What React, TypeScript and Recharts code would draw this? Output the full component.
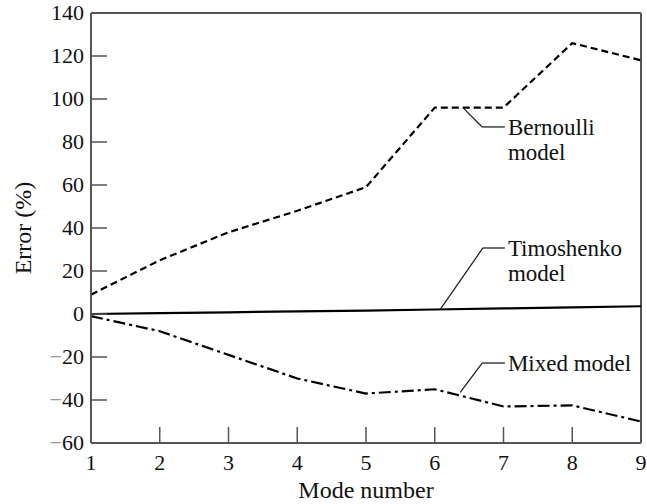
import { LineChart, Line, XAxis, YAxis, ReferenceLine, Label } from 'recharts';

const modes = [1, 2, 3, 4, 5, 6, 7, 8, 9];
const bernoulli = [9, 25, 38, 48, 59, 96, 96, 126, 118];
const timoshenko = [0, 0.4, 0.8, 1.2, 1.6, 2.1, 2.6, 3.1, 3.6];
const mixed = [-1, -8, -19, -30, -37, -35, -43, -42.5, -50];

const yTicks = [-60, -40, -20, 0, 20, 40, 60, 80, 100, 120, 140];

// leader lines for the in-plot labels: [x0, y0, x1, y1, x2]
const leaders = [
  { name: 'bernoulli', pts: [6.41, 96, 6.69, 87, 7.02], text: ['Bernoulli', 'model'] },
  { name: 'timoshenko', pts: [6.08, 2.2, 6.7, 30.7, 7.02], text: ['Timoshenko', 'model'] },
  { name: 'mixed', pts: [6.37, -36.5, 6.69, -22.8, 7.02], text: ['Mixed model'] },
];

const data = modes.map((m, i) => ({
  mode: m,
  bernoulli: bernoulli[i],
  timoshenko: timoshenko[i],
  mixed: mixed[i],
}));

const FONT = '"Liberation Serif", "Times New Roman", serif';
const AXIS = '#555';

function YTick(props: any) {
  const { x, y, payload } = props;
  const v = payload.value as number;
  const neg = v < 0;
  return (
    <g>
      {v > -60 && v < 140 && <line x1={x} y1={y} x2={x + 16} y2={y} stroke={AXIS} strokeWidth={1.5} />}
      <text x={x - 7} y={y + 7} textAnchor="end" fontFamily={FONT} fontSize={22} fill="#111">
        {neg && <tspan fill="#999">−</tspan>}
        {Math.abs(v)}
      </text>
    </g>
  );
}

function XTick(props: any) {
  const { x, y, payload } = props;
  const v = payload.value as number;
  return (
    <g>
      {v > 1 && v < 9 && <line x1={x} y1={y} x2={x} y2={y - 16} stroke={AXIS} strokeWidth={1.5} />}
      <text x={x} y={y + 27} textAnchor="middle" fontFamily={FONT} fontSize={22} fill="#111">
        {v}
      </text>
    </g>
  );
}

function NoteText(props: any) {
  const { viewBox, lines } = props;
  const x = viewBox.x + viewBox.width + 3;
  const y = viewBox.y + 8;
  return (
    <text fontFamily={FONT} fontSize={23} fill="#111">
      {lines.map((t: string, i: number) => (
        <tspan key={i} x={x} y={y + i * 25}>
          {t}
        </tspan>
      ))}
    </text>
  );
}

export default function App() {
  return (
    <div style={{ position: 'absolute', left: 0, top: 0, background: '#fff' }}>
      <LineChart width={647} height={504} data={data} margin={{ top: 13, right: 6, left: 0, bottom: 0 }}>
        <XAxis
          dataKey="mode"
          type="number"
          domain={[1, 9]}
          ticks={modes}
          height={61}
          tickSize={0}
          tickMargin={0}
          tickLine={false}
          tick={<XTick />}
          axisLine={{ stroke: AXIS, strokeWidth: 2 }}
        >
          <Label
            value="Mode number"
            position="insideBottom"
            offset={6}
            style={{ fontFamily: FONT, fontSize: 24, fill: '#111' }}
          />
        </XAxis>
        <YAxis
          type="number"
          domain={[-60, 140]}
          ticks={yTicks}
          width={91}
          tickSize={0}
          tickMargin={0}
          tickLine={false}
          tick={<YTick />}
          axisLine={{ stroke: AXIS, strokeWidth: 2 }}
        >
          <Label
            value="Error (%)"
            angle={-90}
            position="insideLeft"
            offset={0}
            dx={22}
            style={{ fontFamily: FONT, fontSize: 24, fill: '#111', textAnchor: 'middle' }}
          />
        </YAxis>
        <ReferenceLine y={140} stroke={AXIS} strokeWidth={2} />
        <ReferenceLine x={9} stroke={AXIS} strokeWidth={2} />

        <Line
          dataKey="bernoulli"
          stroke="#000"
          strokeWidth={2.2}
          strokeDasharray="7 4"
          dot={false}
          isAnimationActive={false}
        />
        <Line dataKey="timoshenko" stroke="#000" strokeWidth={2.2} dot={false} isAnimationActive={false} />
        <Line
          dataKey="mixed"
          stroke="#000"
          strokeWidth={2.2}
          strokeDasharray="12 4 3 4"
          dot={false}
          isAnimationActive={false}
        />

        {leaders.map((l) => {
          const [x0, y0, x1, y1, x2] = l.pts;
          return [
            <ReferenceLine
              key={l.name + 'a'}
              segment={[
                { x: x0, y: y0 },
                { x: x1, y: y1 },
              ]}
              stroke="#222"
              strokeWidth={1.3}
            />,
            <ReferenceLine
              key={l.name + 'b'}
              segment={[
                { x: x1, y: y1 },
                { x: x2, y: y1 },
              ]}
              stroke="#222"
              strokeWidth={1.3}
            >
              <Label position="right" content={(p: any) => <NoteText viewBox={p.viewBox} lines={l.text} />} />
            </ReferenceLine>,
          ];
        })}
      </LineChart>
    </div>
  );
}
